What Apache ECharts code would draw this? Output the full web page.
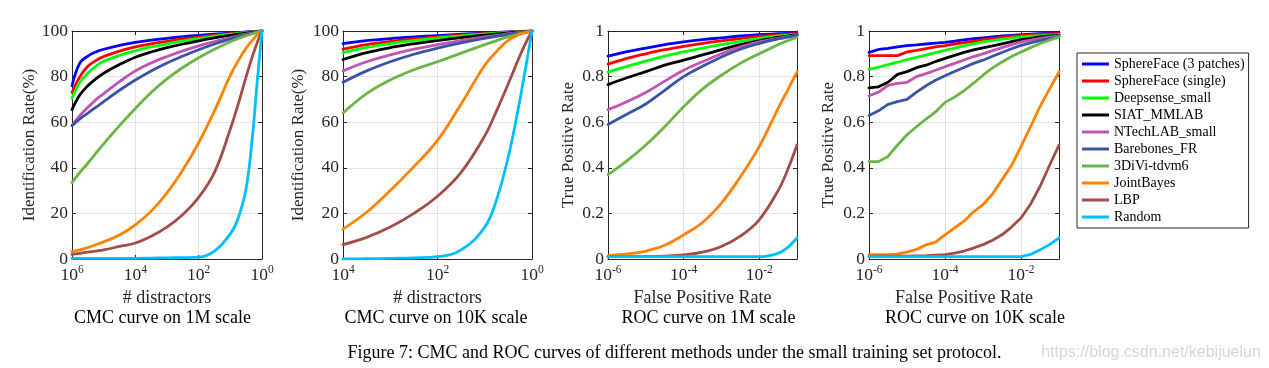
<!DOCTYPE html>
<html><head><meta charset="utf-8">
<script src="https://cdn.jsdelivr.net/npm/echarts@6/dist/echarts.min.js"></script>
<style>html,body{margin:0;padding:0;background:#fff}#c{width:1269px;height:368px}</style>
</head><body><div id="c"></div><script>
// ---------- DATA ----------
const methods = ['SphereFace (3 patches)','SphereFace (single)','Deepsense_small','SIAT_MMLAB','NTechLAB_small','Barebones_FR','3DiVi-tdvm6','JointBayes','LBP','Random'];
const colors = ['#0000ff','#ff0000','#00ff00','#000000','#c053b3','#3b53a4','#6ab544','#ff8200','#a34d4a','#00bfff'];

// CMC 1M: x = log10(# distractors)
const cmc1mX = [6,5.75,5.5,5.25,5,4.5,4,3.5,3,2.5,2,1.5,1,0.75,0.5,0.3,0.15,0];
const cmc1mY = [
  [76,86,89,90.8,92,93.7,95,96,96.8,97.5,98.1,98.6,99.1,99.4,99.6,99.75,99.9,100],
  [73,80,84.5,87,88.8,91.2,93,94.4,95.5,96.5,97.3,98.1,98.8,99.1,99.4,99.6,99.8,100],
  [70.5,77.5,81.5,84.5,86.7,89.3,91.3,93,94.4,95.6,96.7,97.7,98.6,99,99.3,99.6,99.8,100],
  [65.5,72,76,79,81.5,85.3,88.5,90.8,92.7,94.3,95.7,97,98.1,98.6,99.1,99.4,99.7,100],
  [58.5,63,66.5,69.8,72.5,77.8,82.5,86,88.8,91.3,93.5,95.4,97.1,97.9,98.6,99.1,99.6,100],
  [58.5,61.5,64,66.5,69,74,78.5,82.5,86,89,91.8,94.3,96.5,97.5,98.3,99,99.5,100],
  [33.5,38,42,46.3,50.5,58.5,66,73,79,84,88.3,92,95.3,96.7,97.9,98.8,99.4,100],
  [3.3,4,5,6.2,7.5,10.5,15,21,29,39,51,65,80.5,87,92.5,96,98.3,100],
  [2,2.5,3,3.5,4,5.5,7,10,14,19.5,27,38,57,68,80,89,95,100],
  [0.3,0.3,0.3,0.3,0.3,0.3,0.3,0.4,0.5,0.6,0.8,3.5,11,18,31,54,78,100]
];

// CMC 10K
const cmc10kX = [4,3.5,3,2.5,2,1.5,1,0.75,0.5,0.3,0.15,0];
const cmc10kY = [
  [94.5,95.8,96.7,97.4,98,98.6,99.1,99.35,99.6,99.75,99.9,100],
  [92,94,95.4,96.5,97.4,98.2,98.9,99.2,99.5,99.7,99.85,100],
  [90.5,92.8,94.5,95.8,96.9,97.9,98.7,99.05,99.4,99.6,99.8,100],
  [87.5,90.5,92.7,94.4,95.8,97.1,98.2,98.7,99.2,99.5,99.75,100],
  [82.5,86.5,89.5,92,94,95.8,97.4,98.1,98.8,99.3,99.65,100],
  [77.5,82.5,86.5,89.8,92.5,94.8,96.8,97.7,98.5,99.1,99.5,100],
  [64,72.5,78.5,83,86.5,90.3,94,95.8,97.5,98.6,99.3,100],
  [13.1,20.5,30,40.5,52,68,85,91,96,98.2,99.3,100],
  [6.3,9.5,14,20,27.5,38,54,65,77,87,94,100],
  [0,0.1,0.3,0.5,1,4,14,26,45,65,82,100]
];

// ROC 1M: x = log10(false positive rate)
const roc1mX = [-6,-5.5,-5,-4.5,-4,-3.5,-3,-2.5,-2,-1.5,-1.25,-1];
const roc1mY = [
  [0.89,0.91,0.925,0.94,0.952,0.962,0.97,0.978,0.984,0.988,0.99,0.991],
  [0.855,0.88,0.9,0.918,0.933,0.946,0.957,0.967,0.976,0.983,0.986,0.988],
  [0.82,0.845,0.868,0.89,0.908,0.925,0.94,0.955,0.968,0.978,0.982,0.985],
  [0.765,0.795,0.822,0.85,0.872,0.895,0.918,0.94,0.958,0.972,0.978,0.983],
  [0.655,0.69,0.73,0.78,0.828,0.865,0.9,0.93,0.952,0.968,0.975,0.98],
  [0.59,0.635,0.68,0.74,0.8,0.845,0.886,0.92,0.945,0.965,0.973,0.98],
  [0.37,0.43,0.5,0.58,0.668,0.745,0.806,0.858,0.9,0.94,0.957,0.972],
  [0.015,0.022,0.035,0.06,0.106,0.16,0.245,0.36,0.493,0.66,0.74,0.82],
  [0.01,0.01,0.011,0.013,0.018,0.03,0.055,0.1,0.172,0.3,0.39,0.5],
  [0.01,0.01,0.01,0.01,0.01,0.01,0.01,0.01,0.01,0.025,0.05,0.092]
];

// ROC 10K
const roc10kX = [-6,-5.75,-5.5,-5.25,-5,-4.75,-4.5,-4.25,-4,-3.75,-3.5,-3.25,-3,-2.75,-2.5,-2.25,-2,-1.75,-1.5,-1.25,-1];
const roc10kY = [
  [0.906,0.919,0.924,0.930,0.936,0.939,0.943,0.947,0.950,0.955,0.961,0.966,0.970,0.974,0.978,0.981,0.984,0.986,0.988,0.990,0.991],
  [0.892,0.892,0.892,0.892,0.908,0.915,0.923,0.930,0.936,0.943,0.949,0.955,0.962,0.967,0.972,0.977,0.980,0.983,0.985,0.987,0.988],
  [0.832,0.842,0.853,0.863,0.874,0.884,0.894,0.905,0.915,0.925,0.935,0.944,0.952,0.958,0.964,0.969,0.974,0.977,0.980,0.982,0.984],
  [0.751,0.755,0.775,0.81,0.822,0.839,0.85,0.866,0.88,0.893,0.906,0.917,0.926,0.935,0.944,0.953,0.962,0.968,0.974,0.978,0.981],
  [0.716,0.732,0.762,0.77,0.775,0.80,0.813,0.828,0.843,0.858,0.873,0.888,0.9,0.914,0.927,0.94,0.952,0.96,0.968,0.974,0.978],
  [0.629,0.65,0.678,0.69,0.70,0.732,0.76,0.784,0.804,0.822,0.84,0.858,0.872,0.889,0.906,0.922,0.937,0.948,0.958,0.967,0.975],
  [0.427,0.427,0.45,0.50,0.545,0.58,0.614,0.645,0.687,0.71,0.738,0.771,0.806,0.838,0.864,0.888,0.908,0.927,0.945,0.96,0.974],
  [0.019,0.019,0.019,0.022,0.03,0.042,0.062,0.074,0.106,0.136,0.166,0.207,0.238,0.285,0.347,0.41,0.493,0.58,0.668,0.745,0.82],
  [0.012,0.012,0.012,0.012,0.013,0.014,0.015,0.017,0.019,0.026,0.035,0.048,0.063,0.082,0.106,0.14,0.18,0.24,0.318,0.41,0.5],
  [0.01,0.01,0.01,0.01,0.01,0.01,0.01,0.01,0.01,0.01,0.01,0.01,0.01,0.01,0.01,0.01,0.01,0.02,0.04,0.063,0.092]
];

const xTickLabels = { base: '10' };
const yNames = ['Identification Rate(%)','Identification Rate(%)','True Positive Rate','True Positive Rate'];
const xNames = ['# distractors','# distractors','False Positive Rate','False Positive Rate'];
const captions = ['CMC curve on 1M scale','CMC curve on 10K scale','ROC curve on 1M scale','ROC curve on 10K scale'];
const figCaption = 'Figure 7: CMC and ROC curves of different methods under the small training set protocol.';
const watermark = 'https://blog.csdn.net/kebijuelun';

// ---------- LAYOUT ----------
const SERIF = '"Liberation Serif","Times New Roman",serif';
const TXT = '#262626';
const plots = [
  {x: cmc1mX, y: cmc1mY, xmin: 0, xmax: 6, inverse: true, ymax: 100, grid: {left: 72, top: 31, width: 190, height: 228}, yGap: 33, smooth: 0.4},
  {x: cmc10kX, y: cmc10kY, xmin: 0, xmax: 4, inverse: true, ymax: 100, grid: {left: 343, top: 31, width: 189, height: 228}, yGap: 36, smooth: 0.4},
  {x: roc1mX, y: roc1mY, xmin: -6, xmax: -1, inverse: false, ymax: 1, grid: {left: 608, top: 31, width: 189, height: 228}, yGap: 31, smooth: 0.4},
  {x: roc10kX, y: roc10kY, xmin: -6, xmax: -1, inverse: false, ymax: 1, grid: {left: 869, top: 31, width: 190, height: 228}, yGap: 32, smooth: false}
];
const capX = [162.5, 436, 708.5, 975];

const grids = [], xAxes = [], yAxes = [], series = [];
const axisLineStyle = {show: true, onZero: false, lineStyle: {color: TXT, width: 1}};
const tickStyle = {show: true, inside: true, length: 4, lineStyle: {color: TXT, width: 1}};
const splitStyle = {show: true, lineStyle: {color: '#e2e2e2', width: 1}};

plots.forEach((p, pi) => {
  grids.push(Object.assign({containLabel: false}, p.grid));
  const xLab = {
    margin: 5,
    formatter: v => (Math.round(v) === v && v % 2 === 0) ? '{b|' + xTickLabels.base + '}{s|' + v + '}' : '',
    rich: {
      b: {fontFamily: SERIF, fontSize: 17.5, color: TXT, lineHeight: 20, verticalAlign: 'bottom'},
      s: {fontFamily: SERIF, fontSize: 11.5, color: TXT, lineHeight: 11, verticalAlign: 'top'}
    }
  };
  xAxes.push({
    type: 'value', gridIndex: pi, position: 'bottom', min: p.xmin, max: p.xmax, interval: 2, inverse: p.inverse,
    axisLine: axisLineStyle, axisTick: tickStyle, axisLabel: xLab, splitLine: splitStyle,
    name: xNames[pi], nameLocation: 'middle', nameGap: 27,
    nameTextStyle: {fontFamily: SERIF, fontSize: 18, color: TXT}
  });
  xAxes.push({
    type: 'value', gridIndex: pi, position: 'top', min: p.xmin, max: p.xmax, interval: 2, inverse: p.inverse,
    axisLine: axisLineStyle, axisTick: tickStyle, axisLabel: {show: false}, splitLine: {show: false}
  });
  const yFmt = p.ymax === 1 ? (v => v === 0 ? '0' : (v === 1 ? '1' : v.toFixed(1))) : (v => String(v));
  yAxes.push({
    type: 'value', gridIndex: pi, position: 'left', min: 0, max: p.ymax, interval: p.ymax / 5,
    axisLine: axisLineStyle, axisTick: tickStyle, splitLine: splitStyle,
    axisLabel: {formatter: yFmt, margin: 4, fontFamily: SERIF, fontSize: 17.5, color: TXT},
    name: yNames[pi], nameLocation: 'middle', nameRotate: 90, nameGap: p.yGap,
    nameTextStyle: {fontFamily: SERIF, fontSize: 17, color: TXT}
  });
  yAxes.push({
    type: 'value', gridIndex: pi, position: 'right', min: 0, max: p.ymax, interval: p.ymax / 5,
    axisLine: axisLineStyle, axisTick: tickStyle, axisLabel: {show: false}, splitLine: {show: false}
  });
  methods.forEach((m, mi) => {
    series.push({
      type: 'line', name: m, xAxisIndex: pi * 2, yAxisIndex: pi * 2,
      data: p.x.map((xv, k) => [xv, p.y[mi][k]]),
      showSymbol: false, symbol: 'none', smooth: p.smooth,
      lineStyle: {width: 2.8, color: colors[mi], join: 'round', cap: 'round'}, itemStyle: {color: colors[mi]},
      emphasis: {disabled: true}, silent: true
    });
  });
});

const graphic = captions.map((c, i) => ({
  type: 'text', x: capX[i], y: 318,
  style: {text: c, font: '18px ' + SERIF, fill: '#000', align: 'center', verticalAlign: 'middle'}
}));
graphic.push({type: 'text', x: 674.5, y: 353,
  style: {text: figCaption, font: '18px ' + SERIF, fill: '#000', align: 'center', verticalAlign: 'middle'}});
graphic.push({type: 'text', x: 1151, y: 353,
  style: {text: watermark, font: '16px "Liberation Sans", Arial, sans-serif', fill: '#d6d6d6', align: 'center', verticalAlign: 'middle'}});

const chart = echarts.init(document.getElementById('c'), null, {renderer: 'canvas'});
chart.setOption({
  animation: false,
  backgroundColor: '#fff',
  grid: grids, xAxis: xAxes, yAxis: yAxes, series: series,
  legend: {
    orient: 'vertical', left: 1077, top: 53, data: methods, icon: 'rect',
    itemWidth: 27, itemHeight: 3, itemGap: 3, padding: [4, 4, 4, 5],
    borderColor: TXT, borderWidth: 1, selectedMode: false,
    textStyle: {fontFamily: SERIF, fontSize: 14, color: '#000', lineHeight: 14}
  },
  graphic: graphic
});
</script></body></html>
